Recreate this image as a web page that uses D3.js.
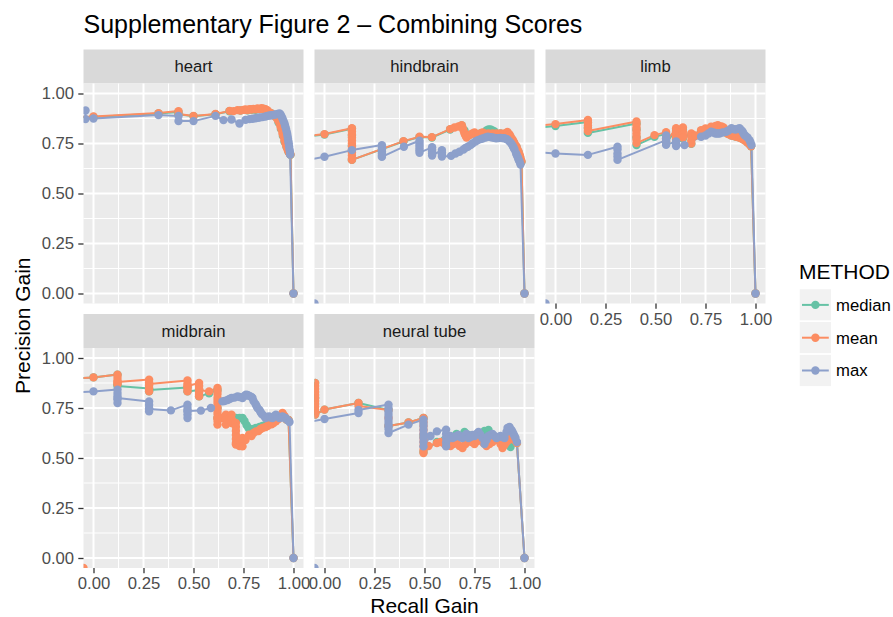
<!DOCTYPE html>
<html>
<head>
<meta charset="utf-8">
<script src="https://cdn.jsdelivr.net/npm/d3@7"></script>
<style>
body { margin: 0; background: #fff; }
text { font-family: "Liberation Sans", Arial, sans-serif; }
</style>
</head>
<body>
<svg width="893" height="617"></svg>
<script>
// facets, methods and colours (Set2)
var tissues = ['heart', 'hindbrain', 'limb', 'midbrain', 'neural tube'];
var methods = ['median', 'mean', 'max'];
var methodColors = ['#66C2A5', '#FC8D62', '#8DA0CB'];

var xTicks = [0, 0.25, 0.5, 0.75, 1];
var yTicks = [0, 0.25, 0.5, 0.75, 1];
var minorTicks = [0.125, 0.375, 0.625, 0.875];

// [recall gain, precision gain]
var heartMedian = [[-0.1,0.88],[0.0,0.883],[0.325,0.9],[0.425,0.908],[0.425,0.896],[0.5,0.886],[0.61,0.896],[0.68,0.911],[0.735,0.915],[0.77,0.916],[0.79,0.919],[0.81,0.918],[0.83,0.922],[0.85,0.923],[0.87,0.913],[0.89,0.9],[0.91,0.884],[0.925,0.855],[0.937,0.823],[0.947,0.788],[0.955,0.758],[0.965,0.733],[0.975,0.708],[0.985,0.693],[1.0,0.0]];
var heartMean = [[-0.1,0.882],[0.0,0.885],[0.325,0.902],[0.425,0.912],[0.425,0.898],[0.5,0.888],[0.61,0.898],[0.68,0.913],[0.70,0.912],[0.72,0.917],[0.735,0.915],[0.75,0.918],[0.76,0.92],[0.77,0.917],[0.78,0.922],[0.79,0.92],[0.80,0.923],[0.81,0.921],[0.82,0.925],[0.83,0.922],[0.84,0.926],[0.85,0.924],[0.86,0.922],[0.87,0.915],[0.88,0.905],[0.89,0.9],[0.90,0.892],[0.91,0.885],[0.92,0.87],[0.928,0.855],[0.935,0.835],[0.94,0.82],[0.945,0.8],[0.95,0.785],[0.955,0.765],[0.96,0.75],[0.965,0.735],[0.97,0.72],[0.975,0.71],[0.98,0.7],[0.985,0.695],[1.0,0.0]];
var heartMax = [[-0.04,0.915],[-0.04,0.872],[0.0,0.875],[0.325,0.892],[0.425,0.888],[0.425,0.862],[0.5,0.862],[0.61,0.888],[0.65,0.867],[0.69,0.87],[0.73,0.85],[0.76,0.868],[0.78,0.872],[0.795,0.874],[0.81,0.876],[0.82,0.878],[0.83,0.88],[0.845,0.882],[0.86,0.885],[0.87,0.888],[0.88,0.89],[0.89,0.891],[0.9,0.893],[0.91,0.895],[0.92,0.898],[0.93,0.9],[0.935,0.895],[0.94,0.885],[0.945,0.875],[0.95,0.862],[0.955,0.85],[0.958,0.838],[0.962,0.825],[0.965,0.812],[0.968,0.8],[0.97,0.788],[0.972,0.775],[0.974,0.762],[0.976,0.75],[0.978,0.735],[0.98,0.72],[0.982,0.708],[0.983,0.695],[1.0,0.0]];

var hindbrainMedian = [[-0.1,0.783],[0.0,0.795],[0.137,0.824],[0.137,0.79],[0.137,0.74],[0.137,0.668],[0.395,0.76],[0.475,0.782],[0.537,0.78],[0.628,0.82],[0.686,0.84],[0.70,0.815],[0.72,0.79],[0.75,0.80],[0.78,0.80],[0.81,0.815],[0.82,0.82],[0.83,0.82],[0.84,0.815],[0.85,0.81],[0.88,0.80],[0.912,0.803],[0.93,0.783],[0.945,0.758],[0.96,0.733],[0.97,0.708],[0.978,0.683],[0.985,0.658],[1.0,0.0]];
var hindbrainMean = [[-0.1,0.785],[0.0,0.797],[0.137,0.826],[0.137,0.81],[0.137,0.795],[0.137,0.78],[0.137,0.765],[0.137,0.75],[0.137,0.735],[0.137,0.72],[0.137,0.705],[0.137,0.69],[0.137,0.675],[0.137,0.668],[0.395,0.762],[0.475,0.784],[0.537,0.782],[0.628,0.822],[0.65,0.83],[0.67,0.835],[0.686,0.842],[0.69,0.83],[0.695,0.815],[0.70,0.80],[0.705,0.79],[0.71,0.78],[0.72,0.79],[0.73,0.795],[0.74,0.80],[0.75,0.805],[0.76,0.795],[0.77,0.79],[0.78,0.80],[0.79,0.805],[0.80,0.80],[0.81,0.795],[0.82,0.80],[0.84,0.80],[0.86,0.80],[0.88,0.80],[0.9,0.80],[0.915,0.808],[0.925,0.795],[0.93,0.785],[0.94,0.77],[0.945,0.76],[0.95,0.75],[0.955,0.74],[0.96,0.735],[0.965,0.72],[0.97,0.71],[0.975,0.695],[0.978,0.685],[0.982,0.67],[0.985,0.66],[1.0,0.0]];
var hindbrainMax = [[-0.1,0.665],[0.0,0.684],[0.137,0.717],[0.287,0.742],[0.287,0.73],[0.287,0.72],[0.287,0.71],[0.287,0.70],[0.287,0.69],[0.287,0.683],[0.397,0.734],[0.475,0.764],[0.475,0.752],[0.475,0.74],[0.475,0.728],[0.475,0.716],[0.475,0.704],[0.538,0.731],[0.538,0.72],[0.538,0.71],[0.538,0.70],[0.538,0.69],[0.587,0.717],[0.587,0.705],[0.587,0.695],[0.587,0.685],[0.633,0.688],[0.655,0.70],[0.675,0.709],[0.695,0.72],[0.705,0.728],[0.717,0.734],[0.73,0.742],[0.74,0.75],[0.755,0.76],[0.767,0.767],[0.78,0.772],[0.79,0.775],[0.805,0.78],[0.817,0.784],[0.83,0.782],[0.84,0.78],[0.85,0.778],[0.858,0.776],[0.87,0.777],[0.88,0.778],[0.89,0.777],[0.90,0.776],[0.91,0.772],[0.915,0.77],[0.925,0.76],[0.933,0.751],[0.94,0.74],[0.945,0.73],[0.95,0.72],[0.958,0.70],[0.962,0.69],[0.967,0.68],[0.97,0.67],[0.975,0.66],[0.98,0.645],[1.0,0.0]];

var limbMedian = [[-0.1,0.828],[0.0,0.837],[0.162,0.858],[0.162,0.83],[0.162,0.803],[0.405,0.85],[0.405,0.82],[0.405,0.78],[0.405,0.742],[0.495,0.783],[0.553,0.798],[0.553,0.752],[0.603,0.818],[0.603,0.77],[0.637,0.822],[0.637,0.775],[0.679,0.795],[0.679,0.748],[0.728,0.813],[0.778,0.83],[0.812,0.838],[0.84,0.826],[0.86,0.80],[0.88,0.79],[0.90,0.785],[0.92,0.78],[0.94,0.77],[0.96,0.755],[0.978,0.736],[1.0,0.0]];
var limbMean = [[-0.1,0.838],[0.0,0.847],[0.162,0.868],[0.162,0.855],[0.162,0.84],[0.162,0.825],[0.162,0.812],[0.405,0.86],[0.405,0.845],[0.405,0.83],[0.405,0.815],[0.405,0.80],[0.405,0.785],[0.405,0.77],[0.405,0.752],[0.495,0.792],[0.553,0.807],[0.553,0.79],[0.553,0.775],[0.553,0.76],[0.603,0.826],[0.603,0.81],[0.603,0.79],[0.603,0.776],[0.637,0.83],[0.637,0.81],[0.637,0.795],[0.637,0.78],[0.679,0.80],[0.679,0.785],[0.679,0.765],[0.679,0.75],[0.70,0.79],[0.728,0.817],[0.75,0.825],[0.778,0.834],[0.80,0.838],[0.812,0.842],[0.83,0.835],[0.84,0.83],[0.85,0.815],[0.86,0.80],[0.87,0.795],[0.88,0.79],[0.89,0.788],[0.90,0.785],[0.91,0.782],[0.92,0.78],[0.93,0.775],[0.94,0.77],[0.95,0.762],[0.96,0.755],[0.97,0.745],[0.978,0.736],[1.0,0.0]];
var limbMax = [[-0.1,0.706],[0.0,0.70],[0.162,0.693],[0.31,0.734],[0.31,0.72],[0.31,0.70],[0.31,0.685],[0.31,0.668],[0.553,0.767],[0.553,0.79],[0.553,0.775],[0.553,0.76],[0.553,0.743],[0.603,0.76],[0.603,0.748],[0.603,0.737],[0.645,0.742],[0.728,0.784],[0.75,0.79],[0.765,0.80],[0.778,0.809],[0.79,0.805],[0.80,0.80],[0.81,0.80],[0.82,0.80],[0.835,0.805],[0.853,0.809],[0.865,0.815],[0.88,0.826],[0.89,0.822],[0.90,0.82],[0.91,0.823],[0.92,0.826],[0.928,0.818],[0.935,0.81],[0.94,0.80],[0.945,0.792],[0.95,0.788],[0.96,0.78],[0.97,0.767],[0.975,0.755],[0.98,0.742],[1.0,0.0]];

var midbrainMedian = [[-0.1,0.898],[0.0,0.903],[0.12,0.917],[0.12,0.867],[0.12,0.86],[0.278,0.848],[0.278,0.833],[0.278,0.84],[0.47,0.852],[0.47,0.833],[0.528,0.84],[0.528,0.808],[0.578,0.823],[0.62,0.84],[0.62,0.75],[0.62,0.70],[0.662,0.71],[0.69,0.712],[0.712,0.70],[0.73,0.70],[0.745,0.70],[0.755,0.685],[0.765,0.665],[0.775,0.65],[0.785,0.64],[0.80,0.645],[0.812,0.65],[0.83,0.655],[0.845,0.66],[0.86,0.665],[0.878,0.672],[0.895,0.68],[0.912,0.69],[0.93,0.705],[0.945,0.722],[0.955,0.705],[0.965,0.692],[0.975,0.69],[1.0,0.0]];
var midbrainMean = [[-0.1,0.898],[0.0,0.903],[0.12,0.917],[0.12,0.905],[0.12,0.89],[0.12,0.878],[0.12,0.867],[0.12,0.88],[0.278,0.892],[0.278,0.878],[0.278,0.862],[0.278,0.848],[0.278,0.833],[0.278,0.87],[0.47,0.888],[0.47,0.872],[0.47,0.858],[0.47,0.845],[0.47,0.833],[0.47,0.86],[0.528,0.875],[0.528,0.86],[0.528,0.845],[0.528,0.83],[0.528,0.815],[0.528,0.808],[0.528,0.84],[0.578,0.833],[0.62,0.85],[0.62,0.835],[0.62,0.82],[0.62,0.80],[0.62,0.785],[0.62,0.77],[0.62,0.75],[0.62,0.735],[0.62,0.72],[0.62,0.70],[0.62,0.685],[0.62,0.667],[0.62,0.70],[0.64,0.70],[0.662,0.717],[0.662,0.69],[0.662,0.667],[0.68,0.70],[0.69,0.717],[0.69,0.695],[0.69,0.675],[0.70,0.68],[0.712,0.675],[0.712,0.655],[0.712,0.635],[0.712,0.615],[0.712,0.595],[0.712,0.575],[0.712,0.567],[0.725,0.58],[0.73,0.56],[0.745,0.60],[0.745,0.58],[0.745,0.558],[0.76,0.59],[0.778,0.617],[0.79,0.61],[0.80,0.625],[0.812,0.633],[0.825,0.635],[0.835,0.645],[0.845,0.65],[0.86,0.655],[0.87,0.66],[0.878,0.667],[0.89,0.668],[0.90,0.675],[0.912,0.683],[0.925,0.695],[0.935,0.71],[0.945,0.725],[0.955,0.71],[0.965,0.692],[0.975,0.69],[1.0,0.0]];
var midbrainMax = [[-0.1,0.828],[0.0,0.833],[0.12,0.842],[0.12,0.825],[0.12,0.81],[0.12,0.792],[0.12,0.775],[0.12,0.80],[0.278,0.783],[0.278,0.765],[0.278,0.748],[0.278,0.733],[0.278,0.745],[0.387,0.738],[0.47,0.767],[0.47,0.75],[0.47,0.735],[0.47,0.718],[0.47,0.70],[0.47,0.735],[0.537,0.737],[0.587,0.75],[0.645,0.783],[0.655,0.785],[0.67,0.79],[0.68,0.795],[0.69,0.80],[0.705,0.802],[0.72,0.808],[0.73,0.805],[0.745,0.80],[0.755,0.81],[0.762,0.817],[0.77,0.815],[0.78,0.81],[0.79,0.805],[0.795,0.80],[0.80,0.785],[0.81,0.77],[0.815,0.76],[0.82,0.75],[0.83,0.74],[0.835,0.73],[0.84,0.722],[0.845,0.717],[0.855,0.708],[0.86,0.70],[0.87,0.705],[0.878,0.708],[0.885,0.702],[0.895,0.70],[0.905,0.71],[0.912,0.717],[0.92,0.708],[0.93,0.70],[0.94,0.705],[0.945,0.708],[0.955,0.70],[0.96,0.70],[0.97,0.69],[0.98,0.68],[1.0,0.0]];

var neuralMedian = [[-0.1,0.80],[-0.047,0.875],[-0.047,0.80],[-0.047,0.717],[0.0,0.742],[0.17,0.775],[0.32,0.74],[0.32,0.66],[0.42,0.678],[0.495,0.70],[0.495,0.61],[0.495,0.53],[0.562,0.58],[0.60,0.59],[0.63,0.58],[0.66,0.62],[0.685,0.61],[0.70,0.63],[0.72,0.615],[0.75,0.60],[0.78,0.62],[0.80,0.635],[0.82,0.64],[0.85,0.60],[0.88,0.59],[0.91,0.60],[0.93,0.555],[0.95,0.58],[0.962,0.575],[1.0,0.0]];
var neuralMean = [[-0.1,0.80],[-0.047,0.875],[-0.047,0.86],[-0.047,0.845],[-0.047,0.83],[-0.047,0.815],[-0.047,0.80],[-0.047,0.785],[-0.047,0.77],[-0.047,0.755],[-0.047,0.74],[-0.047,0.725],[-0.047,0.717],[0.0,0.742],[0.17,0.775],[0.17,0.76],[0.32,0.74],[0.32,0.70],[0.32,0.66],[0.42,0.678],[0.495,0.70],[0.495,0.68],[0.495,0.66],[0.495,0.64],[0.495,0.62],[0.495,0.60],[0.495,0.58],[0.495,0.56],[0.495,0.54],[0.495,0.525],[0.52,0.56],[0.562,0.575],[0.58,0.58],[0.60,0.57],[0.615,0.59],[0.63,0.56],[0.645,0.57],[0.66,0.58],[0.675,0.56],[0.69,0.55],[0.705,0.57],[0.72,0.59],[0.735,0.58],[0.75,0.57],[0.765,0.585],[0.78,0.60],[0.795,0.575],[0.81,0.56],[0.825,0.57],[0.84,0.58],[0.855,0.59],[0.87,0.60],[0.88,0.57],[0.89,0.55],[0.90,0.565],[0.91,0.58],[0.92,0.59],[0.93,0.60],[0.94,0.595],[0.95,0.59],[0.962,0.575],[1.0,0.0]];
var neuralMax = [[-0.1,0.675],[0.0,0.695],[0.17,0.725],[0.17,0.74],[0.32,0.767],[0.32,0.75],[0.32,0.735],[0.32,0.72],[0.32,0.705],[0.32,0.69],[0.32,0.675],[0.32,0.66],[0.32,0.645],[0.32,0.625],[0.42,0.667],[0.495,0.692],[0.495,0.675],[0.495,0.66],[0.495,0.64],[0.495,0.62],[0.495,0.60],[0.495,0.58],[0.495,0.558],[0.53,0.61],[0.562,0.633],[0.608,0.642],[0.608,0.62],[0.608,0.60],[0.608,0.578],[0.608,0.558],[0.62,0.60],[0.63,0.61],[0.64,0.60],[0.65,0.605],[0.66,0.61],[0.67,0.615],[0.68,0.605],[0.69,0.60],[0.70,0.61],[0.71,0.62],[0.72,0.60],[0.73,0.605],[0.74,0.615],[0.75,0.61],[0.76,0.62],[0.77,0.63],[0.78,0.615],[0.79,0.60],[0.80,0.57],[0.81,0.59],[0.82,0.61],[0.83,0.615],[0.84,0.62],[0.85,0.61],[0.86,0.60],[0.87,0.605],[0.88,0.61],[0.89,0.605],[0.90,0.60],[0.91,0.63],[0.915,0.65],[0.925,0.655],[0.935,0.64],[0.94,0.63],[0.945,0.62],[0.95,0.61],[0.955,0.60],[0.962,0.58],[1.0,0.0]];

// stray points sitting in the lower-left corner of some panels
var cornerTissues = ['hindbrain', 'limb', 'midbrain', 'neural tube'];
var cornerMethods = ['max', 'max', 'mean', 'max'];
var cornerX = [-0.05, -0.05, -0.05, -0.05];
var cornerY = [-0.05, -0.05, -0.05, -0.05];

var seriesTable = {
  'heart': [heartMedian, heartMean, heartMax],
  'hindbrain': [hindbrainMedian, hindbrainMean, hindbrainMax],
  'limb': [limbMedian, limbMean, limbMax],
  'midbrain': [midbrainMedian, midbrainMean, midbrainMax],
  'neural tube': [neuralMedian, neuralMean, neuralMax]
};

var svg = d3.select('svg');
var panelW = 220, panelH = 220, stripH = 34;
var colX = [83.5, 314.5, 545.5], rowY = [83.5, 348];

var x = d3.scaleLinear().domain([-0.05, 1.05]).range([0, panelW]);
var y = d3.scaleLinear().domain([-0.05, 1.05]).range([panelH, 0]);
var color = d3.scaleOrdinal().domain(methods).range(methodColors);
var fmt = d3.format('.2f');

svg.append('text')
  .attr('x', 83.5).attr('y', 33)
  .style('font-size', '25px').attr('fill', '#000')
  .text('Supplementary Figure 2 \u2013 Combining Scores');

var defs = svg.append('defs');
defs.append('clipPath').attr('id', 'panelclip')
  .append('rect').attr('width', panelW).attr('height', panelH);

var line = d3.line()
  .x(function(d) { return x(d[0]); })
  .y(function(d) { return y(d[1]); });

tissues.forEach(function(t, i) {
  var col = i % 3, row = Math.floor(i / 3);
  var g = svg.append('g').attr('transform', 'translate(' + colX[col] + ',' + rowY[row] + ')');

  // strip
  g.append('rect').attr('y', -stripH).attr('width', panelW).attr('height', stripH).attr('fill', '#D9D9D9');
  g.append('text').attr('x', panelW / 2).attr('y', -stripH / 2).attr('dy', '0.35em')
    .attr('text-anchor', 'middle').attr('fill', '#1A1A1A').style('font-size', '16.7px').text(t);

  g.append('rect').attr('width', panelW).attr('height', panelH).attr('fill', '#EBEBEB');

  minorTicks.forEach(function(v) {
    g.append('line').attr('x1', x(v)).attr('x2', x(v)).attr('y1', 0).attr('y2', panelH)
      .attr('stroke', '#fff').attr('stroke-width', 1);
    g.append('line').attr('y1', y(v)).attr('y2', y(v)).attr('x1', 0).attr('x2', panelW)
      .attr('stroke', '#fff').attr('stroke-width', 1);
  });
  xTicks.forEach(function(v) {
    g.append('line').attr('x1', x(v)).attr('x2', x(v)).attr('y1', 0).attr('y2', panelH)
      .attr('stroke', '#fff').attr('stroke-width', 2);
  });
  yTicks.forEach(function(v) {
    g.append('line').attr('y1', y(v)).attr('y2', y(v)).attr('x1', 0).attr('x2', panelW)
      .attr('stroke', '#fff').attr('stroke-width', 2);
  });

  var data = g.append('g').attr('clip-path', 'url(#panelclip)');
  var sets = seriesTable[t];
  sets.forEach(function(s, k) {
    data.append('path').attr('d', line(s)).attr('fill', 'none')
      .attr('stroke', color(methods[k])).attr('stroke-width', 2).attr('stroke-linejoin', 'round');
  });
  sets.forEach(function(s, k) {
    data.selectAll(null).data(s).enter().append('circle')
      .attr('cx', function(d) { return x(d[0]); })
      .attr('cy', function(d) { return y(d[1]); })
      .attr('r', 4.2).attr('fill', color(methods[k]));
  });
  cornerTissues.forEach(function(ct, j) {
    if (ct !== t) return;
    data.append('circle').attr('cx', x(cornerX[j])).attr('cy', y(cornerY[j]))
      .attr('r', 4.2).attr('fill', color(cornerMethods[j]));
  });

  // axes like facet_wrap: y on first column, x on bottom of each column
  if (col === 0) {
    var ya = g.append('g').call(d3.axisLeft(y).tickValues(yTicks).tickFormat(fmt).tickSize(5.2).tickPadding(4.2));
    styleAxis(ya);
  }
  if (row === 1 || col === 2) {
    var xa = g.append('g').attr('transform', 'translate(0,' + panelH + ')')
      .call(d3.axisBottom(x).tickValues(xTicks).tickFormat(fmt).tickSize(5.2).tickPadding(4.2));
    styleAxis(xa);
  }
});

function styleAxis(a) {
  a.select('.domain').remove();
  a.selectAll('line').attr('stroke', '#333333').attr('stroke-width', 1.3);
  a.selectAll('text').attr('fill', '#4D4D4D').style('font-size', '16.7px')
    .style('font-family', '"Liberation Sans", Arial, sans-serif');
}

svg.append('text')
  .attr('x', (colX[0] + colX[2] + panelW) / 2).attr('y', 613)
  .attr('text-anchor', 'middle').style('font-size', '21px').text('Recall Gain');

svg.append('text')
  .attr('transform', 'translate(30,' + (rowY[0] + rowY[1] + panelH) / 2 + ') rotate(-90)')
  .attr('text-anchor', 'middle').style('font-size', '21px').text('Precision Gain');

// legend
var legend = svg.append('g').attr('transform', 'translate(799,0)');
legend.append('text').attr('x', 0).attr('y', 279).style('font-size', '21px').text('METHOD');
methods.forEach(function(m, k) {
  var top = 288.5 + k * 32.8;
  legend.append('rect').attr('x', 0).attr('y', top).attr('width', 32.8).attr('height', 32.8)
    .attr('fill', '#F2F2F2').attr('stroke', '#fff').attr('stroke-width', 1.5);
  legend.append('line').attr('x1', 3).attr('x2', 29.8).attr('y1', top + 16.4).attr('y2', top + 16.4)
    .attr('stroke', color(m)).attr('stroke-width', 2);
  legend.append('circle').attr('cx', 16.4).attr('cy', top + 16.4).attr('r', 4.2).attr('fill', color(m));
  legend.append('text').attr('x', 37).attr('y', top + 16.4).attr('dy', '0.35em')
    .style('font-size', '16.7px').text(m);
});
</script>
</body>
</html>
